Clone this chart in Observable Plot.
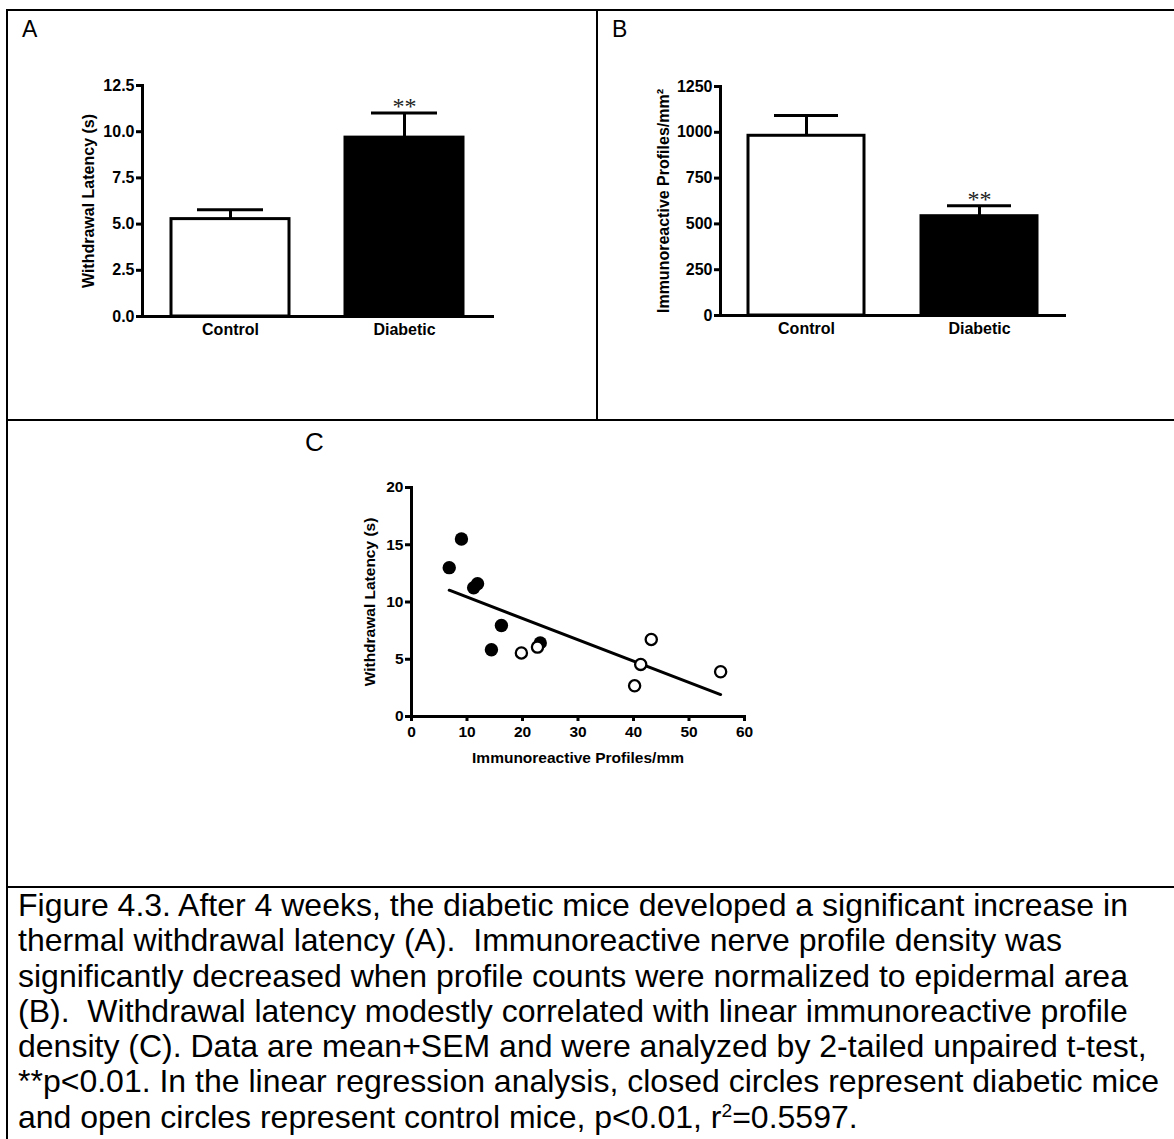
<!DOCTYPE html>
<html>
<head>
<meta charset="utf-8">
<script src="https://cdn.jsdelivr.net/npm/d3@7"></script>
<script src="https://cdn.jsdelivr.net/npm/@observablehq/plot@0.6"></script>
<style>
html, body { margin: 0; padding: 0; background: #fff; }
body { width: 1174px; height: 1139px; position: relative; overflow: hidden; font-family: "Liberation Sans", Arial, sans-serif; color: #000; }
.hl { position: absolute; height: 2px; background: #000; }
.vl { position: absolute; width: 2px; background: #000; }
.lab { position: absolute; font-size: 23px; line-height: 1; }
.panel { position: absolute; }
#caption { position: absolute; left: 18px; top: 888px; font-size: 32px; line-height: 35.3px; white-space: pre; }
#caption sup { font-size: 0.6em; vertical-align: baseline; position: relative; top: -0.55em; line-height: 0; }
</style>
</head>
<body>
<div class="hl" style="left:6px; top:9px; width:1168px;"></div>
<div class="vl" style="left:6px; top:9px; height:1130px;"></div>
<div class="vl" style="left:596px; top:9px; height:412px;"></div>
<div class="hl" style="left:6px; top:419px; width:1168px;"></div>
<div class="hl" style="left:6px; top:886px; width:1168px;"></div>
<div class="lab" style="left:22px; top:18px;">A</div>
<div class="lab" style="left:612px; top:18px;">B</div>
<div class="lab" style="left:305px; top:429px; font-size:26px;">C</div>
<div class="panel" id="panelA" style="left:60px; top:60px;"></div>
<div class="panel" id="panelB" style="left:640px; top:60px;"></div>
<div class="panel" id="panelC" style="left:350px; top:470px;"></div>
<div id="caption"></div>
<script>
// ---- data ----
const groups = ["Control", "Diabetic"];
const latencyMean = [5.27, 9.68];
const latencySem = [0.50, 1.33];
const latencySig = ["", "**"];
const latencyTicks = [0, 2.5, 5, 7.5, 10, 12.5];

const densityMean = [981, 542];
const densitySem = [111, 57];
const densitySig = ["", "**"];
const densityTicks = [0, 250, 500, 750, 1000, 1250];

const diabeticProfiles = [6.8, 9.0, 11.2, 11.9, 16.2, 14.4, 23.2];
const diabeticLatency = [13.0, 15.5, 11.25, 11.6, 7.95, 5.83, 6.43];
const controlProfiles = [19.8, 22.7, 40.2, 41.3, 43.2, 55.7];
const controlLatency = [5.55, 6.06, 2.68, 4.55, 6.73, 3.91];
const scatterXTicks = [0, 10, 20, 30, 40, 50, 60];
const scatterYTicks = [0, 5, 10, 15, 20];

const captionLines = [
  "Figure 4.3. After 4 weeks, the diabetic mice developed a significant increase in",
  "thermal withdrawal latency (A).  Immunoreactive nerve profile density was",
  "significantly decreased when profile counts were normalized to epidermal area",
  "(B).  Withdrawal latency modestly correlated with linear immunoreactive profile",
  "density (C). Data are mean+SEM and were analyzed by 2-tailed unpaired t-test,",
  "**p<0.01. In the linear regression analysis, closed circles represent diabetic mice",
  "and open circles represent control mice, p<0.01, r\u00B2=0.5597."
];

// ---- helpers ----
const baseStyle = {
  fontFamily: "'Liberation Sans', Arial, sans-serif",
  fontSize: "16px",
  fontWeight: "bold",
  color: "#000",
  background: "transparent",
  overflow: "visible"
};

function barPanel(o) {
  const rows = groups.map((g, i) => ({group: g, mean: o.means[i], top: o.means[i] + o.sems[i], sig: o.sig[i]}));
  return Plot.plot({
    width: o.width, height: o.height,
    marginLeft: o.ml, marginRight: o.mr, marginTop: o.mt, marginBottom: o.mb,
    style: baseStyle,
    x: {domain: groups, paddingInner: o.pi, paddingOuter: o.po, label: null},
    y: {domain: [o.ticks[0], o.ticks[o.ticks.length - 1]], nice: false, label: o.label},
    color: {domain: groups, range: ["#ffffff", "#000000"]},
    marks: [
      Plot.ruleX(rows, {x: "group", y1: "mean", y2: "top", stroke: "#000", strokeWidth: 3}),
      Plot.tickY(rows, {x: "group", y: "top", stroke: "#000", strokeWidth: 3, insetLeft: 26, insetRight: 26}),
      Plot.barY(rows, {x: "group", y: "mean", fill: "group", stroke: "#000", strokeWidth: 3}),
      Plot.text(rows, {x: "group", y: "top", text: "sig", lineAnchor: "bottom", dy: 1,
        fontFamily: "'Liberation Serif', 'Times New Roman', serif", fontWeight: "normal", fontSize: 24, fill: "#222"}),
      Plot.axisY({ticks: o.ticks, tickFormat: o.fmt, tickSize: 6, tickPadding: 2, strokeWidth: 3,
        label: o.label, labelAnchor: "center", labelArrow: "none", labelOffset: o.lo}),
      Plot.axisX({tickSize: 0, tickPadding: 7, label: null}),
      Plot.frame({anchor: "left", stroke: "#000", strokeWidth: 3}),
      Plot.frame({anchor: "bottom", stroke: "#000", strokeWidth: 3})
    ]
  });
}

document.getElementById("panelA").append(barPanel({
  means: latencyMean, sems: latencySem, sig: latencySig, ticks: latencyTicks, fmt: d3.format(".1f"),
  label: "Withdrawal Latency (s)", width: 450, height: 300, ml: 82, mr: 18, mt: 25, mb: 44, pi: 0.324, po: 0.166, lo: 60
}));

document.getElementById("panelB").append(barPanel({
  means: densityMean, sems: densitySem, sig: densitySig, ticks: densityTicks, fmt: d3.format("d"),
  label: "Immunoreactive Profiles/mm\u00B2", width: 450, height: 300, ml: 80, mr: 26, mt: 26, mb: 45, pi: 0.33, po: 0.159, lo: 63
}));

const diabeticPts = diabeticProfiles.map((x, i) => ({x, y: diabeticLatency[i]}));
const controlPts = controlProfiles.map((x, i) => ({x, y: controlLatency[i]}));
const allPts = diabeticPts.concat(controlPts);

document.getElementById("panelC").append(Plot.plot({
  width: 420, height: 310,
  marginLeft: 61, marginRight: 26, marginTop: 17, marginBottom: 64,
  style: {...baseStyle, fontSize: "15.5px"},
  x: {domain: [0, 60], nice: false},
  y: {domain: [0, 20], nice: false},
  marks: [
    Plot.linearRegressionY(allPts, {x: "x", y: "y", ci: 0, stroke: "#000", strokeWidth: 3}),
    Plot.dot(diabeticPts, {x: "x", y: "y", r: 6.7, fill: "#000", stroke: "none"}),
    Plot.dot(controlPts, {x: "x", y: "y", r: 5.6, fill: "#fff", stroke: "#000", strokeWidth: 2.3}),
    Plot.axisY({ticks: scatterYTicks, tickSize: 6, tickPadding: 2, strokeWidth: 3,
      label: "Withdrawal Latency (s)", labelAnchor: "center", labelArrow: "none", labelOffset: 48}),
    Plot.axisX({ticks: scatterXTicks, tickSize: 5, tickPadding: 4, strokeWidth: 3,
      label: "Immunoreactive Profiles/mm", labelAnchor: "center", labelArrow: "none", labelOffset: 46}),
    Plot.frame({anchor: "left", stroke: "#000", strokeWidth: 3}),
    Plot.frame({anchor: "bottom", stroke: "#000", strokeWidth: 3})
  ]
}));

const cap = document.getElementById("caption");
captionLines.forEach((line, i) => {
  const div = document.createElement("div");
  if (i === captionLines.length - 1) {
    const parts = line.split("\u00B2");
    div.append(parts[0]);
    const sup = document.createElement("sup");
    sup.textContent = "2";
    div.append(sup, parts[1]);
  } else {
    div.textContent = line;
  }
  cap.append(div);
});
</script>
</body>
</html>
